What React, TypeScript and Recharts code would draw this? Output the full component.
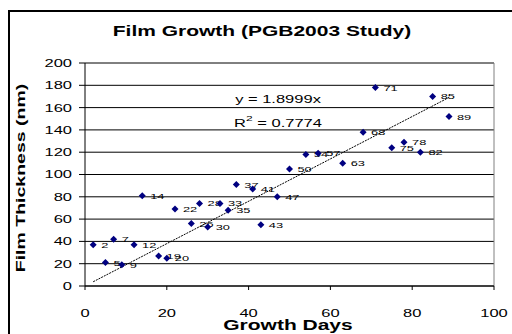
import React from 'react';
import { ScatterChart, Scatter, XAxis, YAxis, CartesianGrid, ReferenceLine, Customized } from 'recharts';

const dayValues = [2, 5, 7, 9, 12, 14, 18, 20, 22, 26, 28, 30, 33, 35, 37, 41, 43, 47, 50, 54, 57, 63, 68, 71, 75, 78, 82, 85, 89];
const thicknessValues = [37, 21, 42, 19, 37, 81, 27, 25, 69, 56, 74, 53, 74, 68, 91, 87, 55, 80, 105, 118, 119, 110, 138, 178, 124, 129, 120, 170, 152];
const pointLabels = ['2', '5', '7', '9', '12', '14', '19', '20', '22', '26', '28', '30', '33', '35', '37', '41', '43', '47', '50', '54', '57', '63', '68', '71', '75', '78', '82', '85', '89'];

const xTicks = [0, 20, 40, 60, 80, 100];
const yTicks = [0, 20, 40, 60, 80, 100, 120, 140, 160, 180, 200];

const slope = 1.8999;
const rSquared = '0.7774';
const trendDays = [2, 89];

const points = dayValues.map((d, i) => ({ x: d, y: thicknessValues[i], label: pointLabels[i] }));

const FONT = '"Liberation Sans", Arial, sans-serif';

const Stretch = ({ x, y, sx = 1.5, rotate = 0, children, ...rest }: any) => (
  <text
    transform={`translate(${x},${y})${rotate ? ` rotate(${rotate})` : ''} scale(${sx},1)`}
    fontFamily={FONT}
    fill="#000"
    {...rest}
  >
    {children}
  </text>
);

const Diamond = (props: any) => {
  const { cx, cy, payload } = props;
  const r = 3.5;
  return (
    <g>
      <polygon points={`${cx},${cy - r} ${cx + r},${cy} ${cx},${cy + r} ${cx - r},${cy}`} fill="#000080" />
      <Stretch x={cx + 8} y={cy} sx={1.6} fontSize={8} dominantBaseline="central">
        {payload.label}
      </Stretch>
    </g>
  );
};

const XTick = (p: any) => (
  <Stretch x={p.x} y={p.y + 25} fontSize={11} textAnchor="middle">
    {p.payload.value}
  </Stretch>
);

const YTick = (p: any) => (
  <Stretch x={p.x - 5} y={p.y} fontSize={11} textAnchor="end" dominantBaseline="central">
    {p.payload.value}
  </Stretch>
);

const Texts = () => (
  <g>
    <Stretch x={252} y={24} fontSize={14} fontWeight="bold" textAnchor="middle">
      Film Growth (PGB2003 Study)
    </Stretch>
    <Stretch x={11} y={166} rotate={-90} fontSize={13} fontWeight="bold" textAnchor="middle" dominantBaseline="central">
      Film Thickness (nm)
    </Stretch>
    <Stretch x={278} y={318} fontSize={14} fontWeight="bold" textAnchor="middle">
      Growth Days
    </Stretch>
    <Stretch x={268} y={91} fontSize={11} textAnchor="middle">
      {`y = ${slope}x`}
    </Stretch>
    <Stretch x={268} y={115} fontSize={11} textAnchor="middle">
      R<tspan fontSize={8} dy={-6}>2</tspan>
      <tspan dy={6}>{` = ${rSquared}`}</tspan>
    </Stretch>
  </g>
);

export default function App() {
  return (
    <div>
      <style>{'html,body{overflow:hidden}'}</style>
      <div style={{ position: 'absolute', left: 8, top: 10, width: 520, height: 340, border: '2px solid #000' }}>
        <ScatterChart width={510} height={330} margin={{ top: 51, right: 26, left: 15, bottom: 26 }}>
          <CartesianGrid horizontal vertical={false} stroke="#000" />
          <XAxis
            type="number"
            dataKey="x"
            domain={[0, 100]}
            ticks={xTicks}
            interval={0}
            height={30}
            tickSize={4}
            axisLine={{ stroke: '#000' }}
            tickLine={{ stroke: '#000' }}
            tick={XTick}
          />
          <YAxis
            type="number"
            dataKey="y"
            domain={[0, 200]}
            ticks={yTicks}
            interval={0}
            width={60}
            tickSize={6}
            axisLine={{ stroke: '#000' }}
            tickLine={{ stroke: '#000' }}
            tick={YTick}
          />
          <ReferenceLine y={200} stroke="#808080" />
          <ReferenceLine x={100} stroke="#808080" />
          <ReferenceLine
            segment={[
              { x: trendDays[0], y: slope * trendDays[0] },
              { x: trendDays[1], y: slope * trendDays[1] },
            ]}
            stroke="#000"
            strokeDasharray="2 1"
          />
          <Scatter data={points} shape={Diamond} isAnimationActive={false} />
          <Customized component={Texts} />
        </ScatterChart>
      </div>
    </div>
  );
}
